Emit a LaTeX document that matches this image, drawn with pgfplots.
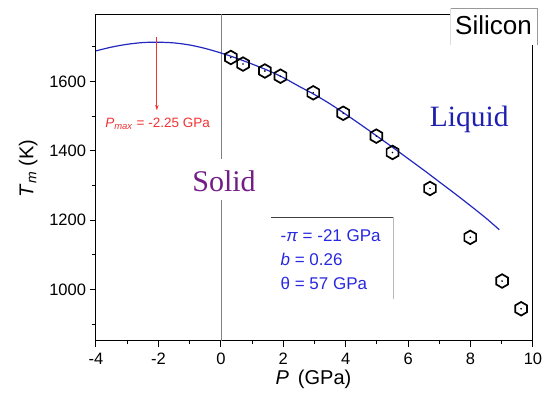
\documentclass[border=0pt]{standalone}
\usepackage{fontspec}
\setmainfont{Liberation Sans}
\newfontfamily\serif{Liberation Serif}
\usepackage{pgfplots}
\pgfplotsset{compat=1.18}
\usetikzlibrary{arrows.meta}
\definecolor{curveblue}{RGB}{35,40,190}
\definecolor{txtblue}{RGB}{40,40,225}
\definecolor{solidpurple}{RGB}{115,30,135}
\definecolor{liqblue}{RGB}{30,30,175}
\definecolor{annred}{RGB}{240,50,50}
\pgfdeclareplotmark{hexdot}{%
  \pgfpathmoveto{\pgfpointpolar{90}{\pgfplotmarksize}}%
  \pgfpathlineto{\pgfpointpolar{150}{\pgfplotmarksize}}%
  \pgfpathlineto{\pgfpointpolar{210}{\pgfplotmarksize}}%
  \pgfpathlineto{\pgfpointpolar{270}{\pgfplotmarksize}}%
  \pgfpathlineto{\pgfpointpolar{330}{\pgfplotmarksize}}%
  \pgfpathlineto{\pgfpointpolar{30}{\pgfplotmarksize}}%
  \pgfpathclose
  \pgfusepathqstroke
  \pgfpathcircle{\pgfpointorigin}{0.9pt}%
  \pgfusepathqfill
}
\begin{document}
\begin{tikzpicture}[x=1pt,y=1pt]
\useasboundingbox (0,0) rectangle (550,403);
\begin{axis}[
  at={(96pt,62pt)}, anchor=south west,
  scale only axis, width=437pt, height=326.5pt,
  xmin=-4, xmax=10, ymin=851, ymax=1793,
  xtick={-4,-2,0,2,4,6,8,10}, xticklabels={-4,-2,0,2,4,6,8,10},
  minor xtick={-3,-1,1,3,5,7,9},
  ytick={1000,1200,1400,1600}, yticklabels={1000,1200,1400,1600},
  minor ytick={900,1100,1300,1500,1700},
  xtick pos=bottom, ytick pos=left,
  tick align=outside,
  major tick length=6pt, minor tick length=3.5pt,
  tick style={black, line width=1pt},
  axis line style={line width=1pt},
  tick label style={font=\fontsize{16.5}{18}\selectfont},
  xticklabel style={yshift=-2.5pt},
  yticklabel style={xshift=-0.5pt},
  clip=false,
]
% reference line at P = 0
\addplot[gray, line width=0.6pt] coordinates {(0,1793) (0,1376)};
\addplot[gray, line width=0.6pt] coordinates {(0,1258) (0,851)};
% fitted melting curve
\addplot[curveblue, line width=1.2pt, smooth] coordinates {
(-4,1688) (-3.5,1699) (-3,1707) (-2.5,1712) (-2,1713) (-1.5,1711)
(-1,1705) (-0.5,1695) (0,1682) (0.5,1667) (1,1650) (1.5,1632)
(2,1611) (2.5,1586) (3,1562) (3.5,1535) (4,1505) (4.5,1474)
(5,1442) (5.5,1410) (6,1377) (6.5,1344) (7,1310) (7.5,1276)
(8,1241) (8.5,1205) (8.92,1172)};
% experimental points
\addplot[only marks, mark=hexdot, mark size=6.8pt, mark options={black, line width=1.7pt}] coordinates {
(0.32,1669) (0.71,1650) (1.41,1630) (1.91,1615) (2.96,1567) (3.92,1508)
(4.98,1442) (5.50,1395) (6.70,1291) (7.99,1150) (9.01,1024) (9.62,944)};
% parameter box
\addplot[black!75, line width=0.8pt] coordinates {(1.61,1208) (5.53,1208)};
\addplot[gray!55, line width=0.6pt] coordinates {(5.53,1208) (5.53,972)};
\node[anchor=base west, inner sep=0, text=txtblue, font=\fontsize{17}{18}\selectfont] at (axis cs:1.91,1137) {-\textit{π} = -21 GPa};
\node[anchor=base west, inner sep=0, text=txtblue, font=\fontsize{17}{18}\selectfont] at (axis cs:1.91,1070) {\textit{b} = 0.26};
\node[anchor=base west, inner sep=0, text=txtblue, font=\fontsize{17}{18}\selectfont] at (axis cs:1.91,1001) {θ = 57 GPa};
% Pmax annotation
\draw[annred, line width=0.9pt, -{Stealth[length=5pt,width=3.5pt]}] (axis cs:-2.05,1728) -- (axis cs:-2.05,1517);
\node[anchor=base west, inner sep=0, text=annred, font=\fontsize{13.5}{15}\selectfont] at (axis cs:-3.71,1467) {\textit{P}\textsubscript{\textit{max}} = -2.25 GPa};
% phase labels
\node[anchor=base west, inner sep=0, text=solidpurple, font=\serif\fontsize{30}{32}\selectfont] at (axis cs:-0.92,1281) {Solid};
\node[anchor=base west, inner sep=0, text=liqblue, font=\serif\fontsize{29.5}{32}\selectfont] at (axis cs:6.69,1471) {Liquid};
\end{axis}
% Silicon label box
\fill[white] (450.5,358) rectangle (537,394.7);
\draw[gray!80, line width=0.8pt] (450.5,394.7) -- (537,394.7) -- (537,358);
\draw[gray!25, line width=0.6pt] (450.5,394.7) -- (450.5,358);
\node[anchor=base west, inner sep=0, font=\fontsize{26}{28}\selectfont] at (455,368) {Silicon};
% axis labels
\node[anchor=base, inner sep=0, font=\fontsize{20}{22}\selectfont] at (313.5,18) {\textit{P}\, (GPa)};
\node[anchor=base, inner sep=0, rotate=90, font=\fontsize{20}{22}\selectfont] at (33.3,234.5) {\textit{T}\textsubscript{\textit{m}} (K)};
\end{tikzpicture}
\end{document}
